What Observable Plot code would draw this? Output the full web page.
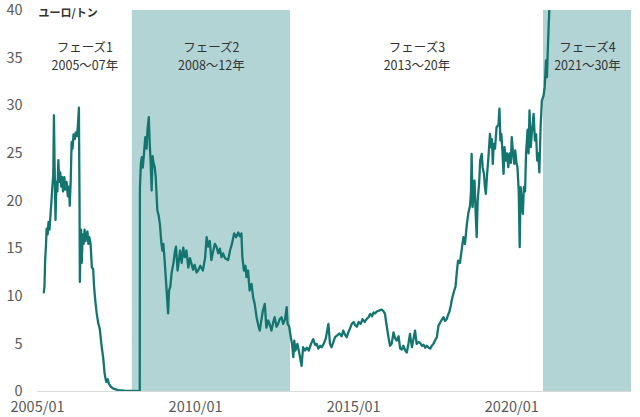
<!DOCTYPE html>
<html>
<head>
<meta charset="utf-8">
<script src="https://cdn.jsdelivr.net/npm/d3@7"></script>
<script src="https://cdn.jsdelivr.net/npm/@observablehq/plot@0.6"></script>
<style>
  html, body { margin: 0; padding: 0; background: #fff; }
  svg { display: block; }
</style>
</head>
<body>
<div id="chart"></div>
<script>
// ---- Data ----
const unitLabel = "ユーロ/トン";

// time as decimal years
const times = [
  2005.20,2005.22,2005.24,2005.27,2005.29,2005.32,2005.35,2005.38,2005.41,2005.44,
  2005.47,2005.50,2005.52,2005.54,2005.57,2005.60,2005.63,2005.66,2005.69,2005.72,
  2005.75,2005.78,2005.81,2005.85,2005.88,2005.92,2005.96,2006.00,2006.02,2006.05,
  2006.08,2006.11,2006.14,2006.18,2006.21,2006.25,2006.28,2006.31,2006.33,2006.34,
  2006.36,2006.38,2006.40,2006.43,2006.46,2006.49,2006.52,2006.55,2006.58,2006.61,
  2006.64,2006.68,2006.72,2006.76,2006.79,2006.83,2006.87,2006.92,2006.97,2007.02,
  2007.08,2007.12,2007.15,2007.18,2007.22,2007.26,2007.32,2007.40,2007.55,2007.75,
  2008.00,2008.235,
  2008.24,2008.27,2008.30,2008.33,2008.37,2008.41,2008.45,2008.48,2008.52,2008.55,
  2008.58,2008.61,2008.64,2008.67,2008.71,2008.74,2008.79,2008.83,2008.87,2008.92,
  2008.95,2008.98,2009.02,2009.07,2009.13,2009.16,2009.20,2009.24,2009.30,2009.35,
  2009.38,2009.43,2009.48,2009.51,2009.56,2009.61,2009.66,2009.71,2009.77,2009.82,
  2009.87,2009.92,2009.97,2010.03,2010.08,2010.15,2010.23,2010.30,2010.35,2010.40,
  2010.45,2010.50,2010.56,2010.61,2010.66,2010.72,2010.77,2010.82,2010.87,2010.93,
  2011.03,2011.09,2011.15,2011.22,2011.28,2011.35,2011.40,2011.45,2011.48,2011.53,
  2011.58,2011.61,2011.66,2011.71,2011.77,2011.82,2011.87,2011.93,2011.98,2012.03,
  2012.08,2012.13,2012.19,2012.24,2012.30,2012.35,2012.40,2012.45,2012.50,2012.56,
  2012.61,2012.66,2012.72,2012.77,2012.83,2012.88,2012.91,2012.96,2013.01,2013.05,
  2013.09,2013.12,2013.16,2013.22,2013.28,2013.35,2013.40,2013.46,2013.52,2013.58,
  2013.65,2013.72,2013.78,2013.83,2013.88,2013.94,2013.99,2014.05,2014.12,2014.20,
  2014.25,2014.30,2014.36,2014.41,2014.48,2014.55,2014.62,2014.67,2014.72,2014.78,
  2014.83,2014.88,2014.94,2015.00,2015.04,2015.10,2015.16,2015.22,2015.28,2015.35,
  2015.41,2015.47,2015.52,2015.58,2015.63,2015.68,2015.73,2015.80,2015.89,2015.95,
  2015.99,2016.04,2016.10,2016.15,2016.20,2016.26,2016.31,2016.36,2016.42,2016.47,
  2016.52,2016.57,2016.63,2016.68,2016.73,2016.78,2016.84,2016.89,2016.94,2016.99,
  2017.05,2017.10,2017.16,2017.21,2017.26,2017.31,2017.37,2017.42,2017.47,2017.52,
  2017.58,2017.63,2017.68,2017.73,2017.78,2017.84,2017.89,2017.94,2017.99,2018.02,
  2018.07,2018.10,2018.13,2018.18,2018.22,2018.26,2018.30,2018.36,2018.42,2018.47,
  2018.52,2018.58,2018.63,2018.68,2018.71,2018.73,2018.76,2018.79,2018.82,2018.86,
  2018.89,2018.92,2018.97,2019.00,2019.05,2019.08,2019.12,2019.15,2019.18,2019.22,
  2019.26,2019.31,2019.34,2019.37,2019.40,2019.43,2019.47,2019.52,2019.58,2019.61,
  2019.64,2019.67,2019.70,2019.74,2019.77,2019.81,2019.85,2019.89,2019.93,2019.97,
  2020.00,2020.04,2020.08,2020.11,2020.15,2020.18,2020.22,2020.25,2020.28,2020.31,
  2020.35,2020.38,2020.42,2020.45,2020.50,2020.53,2020.56,2020.60,2020.63,2020.66,
  2020.69,2020.73,2020.77,2020.80,2020.84,2020.87,2020.91,2020.95,2021.00,2021.04,
  2021.08,2021.11,2021.15,2021.18,2021.22
];

const prices = [
  10.4,11.0,13.6,15.5,17.1,16.5,17.8,17.0,18.5,19.9,
  21.5,22.8,29.0,24.0,18.0,22.0,21.0,24.3,22.0,23.0,
  21.5,22.5,21.0,22.5,21.2,22.0,20.5,21.5,19.5,22.0,
  26.2,25.5,27.0,26.5,27.2,26.8,28.0,29.8,20.0,11.5,
  15.0,17.0,13.5,16.5,15.5,17.0,15.8,16.5,16.8,15.5,
  16.2,15.5,13.0,12.9,11.0,9.5,8.3,7.2,6.6,5.0,
  3.5,2.0,1.4,1.0,1.3,0.8,0.5,0.3,0.15,0.08,
  0.05,0.03,
  21.4,23.9,24.6,23.5,25.0,26.7,25.5,27.5,28.8,26.0,
  24.0,21.1,24.7,24.0,23.5,22.5,19.0,18.5,17.6,15.5,
  14.8,15.5,13.8,11.3,8.2,10.6,11.0,12.4,13.5,14.8,
  15.2,12.7,14.0,14.8,13.5,15.1,14.1,14.8,13.0,14.0,
  13.4,12.8,13.3,12.5,12.7,13.2,12.7,14.0,16.2,15.2,
  15.8,13.8,14.8,15.5,15.2,14.5,15.0,14.1,14.5,14.0,
  13.8,14.8,15.5,16.6,16.2,16.7,16.3,16.6,14.1,12.7,
  13.2,12.0,12.7,10.6,11.3,9.9,9.2,7.8,7.0,6.4,
  7.5,8.5,9.2,6.7,7.45,7.0,6.4,7.2,7.8,6.8,
  7.1,7.6,7.8,7.1,7.6,8.85,7.1,6.8,5.7,5.0,
  3.6,5.35,4.3,5.0,4.0,2.7,4.65,4.3,4.6,4.3,
  5.0,5.5,4.9,5.0,4.5,4.8,4.65,5.0,5.6,7.1,
  5.0,4.65,5.2,5.7,5.9,6.1,5.8,6.4,6.0,5.7,
  6.2,6.6,7.1,7.3,7.0,6.8,7.3,7.1,7.6,7.3,
  7.6,7.8,8.15,7.9,8.3,8.2,8.4,8.5,8.6,8.4,
  8.15,7.0,5.7,4.8,5.0,6.2,5.6,5.35,5.8,4.5,
  4.4,4.8,4.3,4.1,5.0,6.05,4.65,5.5,6.4,5.0,
  5.2,5.1,4.8,4.9,4.6,4.8,4.6,4.5,4.8,5.0,
  5.4,5.7,6.9,7.2,7.5,7.8,7.4,7.6,8.1,8.3,
  9.0,9.55,10.0,10.6,11.0,12.5,13.75,13.5,15.0,16.2,
  15.5,17.6,18.8,19.5,21.0,24.95,19.35,21.0,22.15,18.5,
  16.2,20.0,22.0,24.25,24.95,23.5,22.85,21.5,20.75,22.85,
  24.5,27.05,25.65,26.5,23.9,26.0,25.5,27.75,28.0,29.7,
  26.35,27.05,25.5,22.85,25.65,24.25,25.0,23.55,25.0,24.0,
  26.7,25.0,23.9,25.3,24.0,23.55,21.0,15.15,21.45,20.05,
  18.65,21.45,21.0,24.95,27.5,25.0,29.5,25.65,27.05,28.0,
  29.15,26.35,27.0,24.25,25.0,23.0,27.75,30.55,31.0,31.95,
  34.75,33.0,37.0,39.65,42.0
];

const phaseNames   = ["フェーズ1", "フェーズ2", "フェーズ3", "フェーズ4"];
const phasePeriods = ["2005～07年", "2008～12年", "2013～20年", "2021～30年"];
const phaseStarts  = ["2005-01-01", "2008-01-01", "2013-01-01", "2021-01-01"];
const phaseEnds    = ["2008-01-01", "2013-01-01", "2021-01-01", "2031-01-01"];
const phaseShaded  = [false, true, false, true];

const xDomain = ["2005-01-01", "2023-10-15"];
const xTicks = ["2005-01-01", "2010-01-01", "2015-01-01", "2020-01-01"];
const yTicks = [0, 5, 10, 15, 20, 25, 30, 35, 40];

// ---- Build tables ----
const toDate = t => {
  const y = Math.floor(t);
  const start = Date.UTC(y, 0, 1), end = Date.UTC(y + 1, 0, 1);
  return new Date(start + (t - y) * (end - start));
};
const series = times.map((t, i) => ({date: toDate(t), price: prices[i]}));
const x0 = new Date(xDomain[0]), x1 = new Date(xDomain[1]);
const phases = phaseNames.map((name, i) => {
  const s = new Date(phaseStarts[i]);
  const e = new Date(Math.min(+new Date(phaseEnds[i]), +x1));
  return {name, period: phasePeriods[i], start: s, end: e,
          mid: new Date((+s + +e) / 2), shaded: phaseShaded[i]};
});

const font = "'Noto Sans CJK JP', 'Noto Sans', sans-serif";

const chart = Plot.plot({
  width: 640,
  height: 417,
  marginTop: 10,
  marginBottom: 26,
  marginLeft: 37,
  marginRight: 9,
  style: {fontFamily: font, background: "#fff", overflow: "visible"},
  x: {
    type: "utc",
    domain: [x0, x1],
    ticks: xTicks.map(d => new Date(d)),
    tickFormat: d3.utcFormat("%Y/%m"),
    tickSize: 0,
    tickPadding: 10,
    label: null
  },
  y: {
    domain: [0, 40],
    ticks: yTicks,
    tickSize: 0,
    tickPadding: 15,
    label: null
  },
  marks: [
    Plot.rect(phases.filter(d => d.shaded), {x1: "start", x2: "end", fill: "#b3d4d5"}),
    Plot.ruleY([0], {stroke: "#d9d9d9", strokeWidth: 1}),
    Plot.axisX({ticks: xTicks.map(d => new Date(d)), tickFormat: d3.utcFormat("%Y/%m"), tickSize: 0, tickPadding: 10, fontSize: 14.5, fill: "#595959", label: null}),
    Plot.axisY({ticks: yTicks, tickSize: 0, tickPadding: 15, fontSize: 14.5, fill: "#595959", label: null}),
    Plot.lineY(series, {x: "date", y: "price", stroke: "#137570", strokeWidth: 2.3, clip: true}),
    Plot.text(phases, {x: "mid", text: "name", frameAnchor: "top", dy: 33, fontSize: 12.5, fill: "#333"}),
    Plot.text(phases, {x: "mid", text: "period", frameAnchor: "top", dy: 51, fontSize: 12.5, fill: "#333"}),
    Plot.text([unitLabel], {frameAnchor: "top-left", dx: 1, dy: -1, textAnchor: "start", fontSize: 11, fontWeight: "bold", fill: "#333"})
  ]
});

document.getElementById("chart").appendChild(chart);
</script>
</body>
</html>
